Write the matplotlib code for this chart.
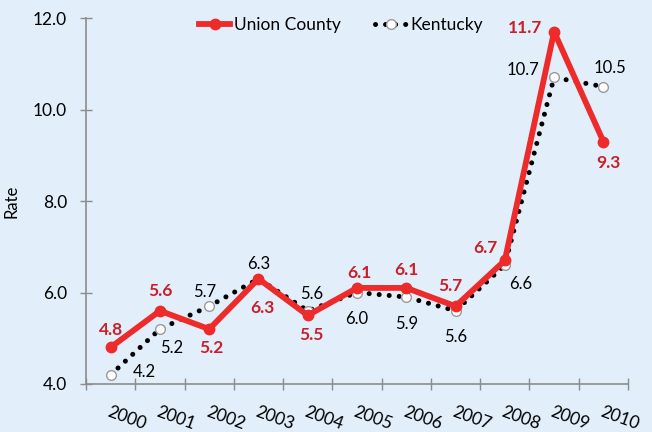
import matplotlib
matplotlib.use("Agg")
import matplotlib.pyplot as plt

plt.rcParams['font.family'] = ['Lato', 'DejaVu Sans']

# data
years = ['2000', '2001', '2002', '2003', '2004', '2005',
         '2006', '2007', '2008', '2009', '2010']
union = [4.8, 5.6, 5.2, 6.3, 5.5, 6.1, 6.1, 5.7, 6.7, 11.7, 9.3]
kentucky = [4.2, 5.2, 5.7, 6.3, 5.6, 6.0, 5.9, 5.6, 6.6, 10.7, 10.5]

# label offsets in pixels (dx, dy)
union_off = [(0, 17), (0, 20), (2, -19), (4, -29), (4, -20), (2, 15),
             (0, 18), (-5, 20), (-19, 12), (-29, 4), (5, -21)]
ky_off = [(34, 3), (12, -19), (-5, 14), (0, 15), (4, 17), (0, -26),
          (0, -27), (0, -26), (16, -19), (-31, 7), (7, 19)]

bg = '#E2EEF9'
red = '#EE2B2B'
label_red = '#C8202A'
grey = '#8C8C8C'

fig = plt.figure(figsize=(6.52, 4.32), dpi=100, facecolor=bg)
ax = fig.add_axes([86/652, 48/432, 542/652, 366/432], facecolor=bg)

x = list(range(len(years)))

ax.plot(x, kentucky, color='black', lw=3.6, linestyle=(0, (0.01, 2.0)),
        dash_capstyle='round', marker='o', markersize=7,
        markerfacecolor='white', markeredgecolor='#9A9A9A',
        markeredgewidth=1.0, label='Kentucky', zorder=3)
ax.plot(x, union, color=red, lw=4.2, marker='o', markersize=7.5,
        markerfacecolor=red, markeredgecolor=red, label='Union County',
        zorder=4)

for i, v in enumerate(union):
    ax.annotate(f'{v:.1f}', (i, v), xytext=union_off[i],
                textcoords='offset pixels', ha='center', va='center',
                color=label_red, fontsize=12.5, fontweight='bold', zorder=5)
for i, v in enumerate(kentucky):
    ax.annotate(f'{v:.1f}', (i, v), xytext=ky_off[i],
                textcoords='offset pixels', ha='center', va='center',
                color='black', fontsize=12, zorder=5)

ax.set_xlim(-0.5, len(years) - 0.5)
ax.set_ylim(4, 12)
ax.set_yticks([4, 6, 8, 10, 12])
ax.set_yticklabels([f'{t:.1f}' for t in [4, 6, 8, 10, 12]], fontsize=12.5)

ax.set_xticks([i - 0.5 for i in range(len(years) + 1)])
ax.set_xticklabels([])
ax.set_xticks(x, minor=True)
ax.set_xticklabels(years, minor=True, fontsize=12.5)
ax.tick_params(axis='x', which='major', direction='inout', length=9,
               width=1, color=grey)
ax.tick_params(axis='x', which='minor', length=0, pad=14)
plt.setp(ax.get_xticklabels(minor=True), rotation=-20, ha='left',
         rotation_mode='anchor')
ax.tick_params(axis='y', direction='inout', length=9, width=1, color=grey,
               pad=9)

for s in ['top', 'right']:
    ax.spines[s].set_visible(False)
for s in ['left', 'bottom']:
    ax.spines[s].set_color(grey)
    ax.spines[s].set_linewidth(1.2)

ax.set_ylabel('Rate', fontsize=12)
ax.yaxis.set_label_coords(-0.122, 0.5)

handles, labels = ax.get_legend_handles_labels()
ax.legend(handles[::-1], labels[::-1], loc='upper center',
          bbox_to_anchor=(0.47, 1.045), ncol=2, frameon=False,
          fontsize=12.5, handlelength=1.8, handletextpad=0.2,
          columnspacing=2.0)

fig.savefig('out.png', dpi=100, facecolor=bg)
